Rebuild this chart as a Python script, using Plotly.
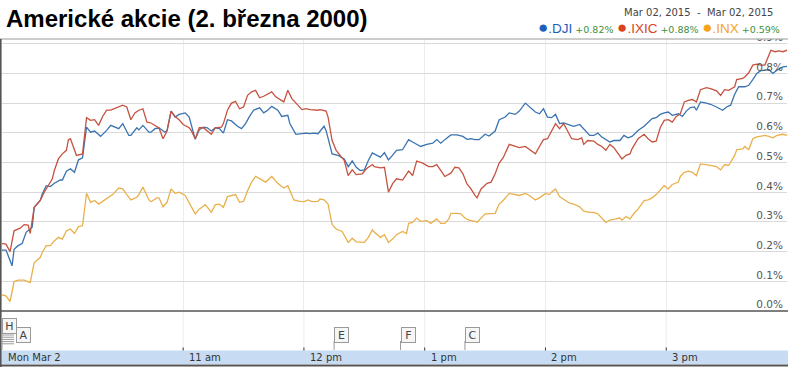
import pandas as pd
import plotly.graph_objects as go

DAY_OPEN = pd.Timestamp("2015-03-02 09:30")
DAY_CLOSE = pd.Timestamp("2015-03-02 16:00")

# minutes after 9:30 and % change
dji_min = [0, 2, 5, 6, 8, 10, 12, 15, 16, 19, 20, 22, 24, 26, 29, 30, 32, 34, 36, 38, 40, 42, 44, 46, 49, 52, 54, 57, 58, 60, 63, 64, 67, 68, 70, 73, 74, 76, 78,
           81, 82, 84, 86, 88, 91, 93, 94, 96, 98, 100, 102, 104, 106, 108, 110, 112, 114, 117, 119, 121, 123, 125, 128, 130, 132, 134, 137, 139, 142, 143, 146, 148, 151, 153, 155, 157,
           160, 161, 164, 167, 170, 172, 174, 176, 178, 180, 182, 184, 186, 188, 190, 192, 194, 196, 199, 202, 204, 208, 211, 214, 216, 218, 220, 223, 226, 229, 231, 233, 235,
           237, 240, 242, 245, 247, 250, 252, 255, 257, 260, 262, 265, 267, 269, 271, 273, 275, 277, 279, 282, 284, 287, 289, 292, 294, 296, 298, 300, 302, 304, 307, 309, 311, 313,
           316, 319, 321, 323, 325, 327, 329, 331, 333, 336, 338, 340, 342, 344, 345, 347, 350, 352, 355, 356, 358, 360, 362, 364, 366, 369, 371, 373, 375, 377, 379, 381, 383, 385, 388, 390]
dji = [0.205, 0.205, 0.152, 0.208, 0.220, 0.227, 0.265, 0.282, 0.349, 0.372, 0.394, 0.422, 0.419, 0.430, 0.441, 0.441, 0.471, 0.479, 0.467, 0.509, 0.516, 0.619, 0.602, 0.606, 0.588, 0.608, 0.625, 0.617, 0.614, 0.631, 0.591, 0.591, 0.617, 0.610, 0.625, 0.602, 0.602, 0.614, 0.616,
       0.602, 0.608, 0.673, 0.653, 0.662, 0.667, 0.653, 0.625, 0.578, 0.610, 0.619, 0.617, 0.606, 0.617, 0.614, 0.599, 0.644, 0.640, 0.622, 0.614, 0.631, 0.655, 0.676, 0.684, 0.667, 0.676, 0.689, 0.676, 0.655, 0.659, 0.631, 0.595, 0.597, 0.599, 0.597, 0.599, 0.597,
       0.622, 0.608, 0.529, 0.524, 0.512, 0.486, 0.505, 0.484, 0.473, 0.475, 0.507, 0.532, 0.524, 0.518, 0.533, 0.509, 0.524, 0.541, 0.543, 0.577, 0.569, 0.554, 0.561, 0.565, 0.577, 0.565, 0.577, 0.593, 0.593, 0.588, 0.578, 0.580, 0.577,
       0.577, 0.595, 0.589, 0.606, 0.644, 0.653, 0.667, 0.662, 0.673, 0.700, 0.687, 0.670, 0.664, 0.681, 0.653, 0.651, 0.662, 0.631, 0.633, 0.625, 0.622, 0.628, 0.614, 0.591, 0.591, 0.599, 0.586, 0.577, 0.569, 0.574, 0.574, 0.591, 0.583, 0.588,
       0.608, 0.622, 0.636, 0.648, 0.651, 0.662, 0.667, 0.670, 0.659, 0.664, 0.655, 0.673, 0.685, 0.687, 0.676, 0.704, 0.700, 0.696, 0.687, 0.684, 0.676, 0.687, 0.693, 0.730, 0.755, 0.755, 0.760, 0.779, 0.800, 0.809, 0.811, 0.813, 0.800, 0.811, 0.822, 0.824]

ixic_min = [0, 2, 4, 6, 9, 11, 13, 14, 16, 19, 21, 23, 25, 26, 28, 30, 32, 33, 34, 37, 39, 40, 42, 44, 46, 48, 50, 52, 54, 58, 60, 62, 64, 66, 68, 70, 72, 74, 77, 78,
            80, 82, 84, 86, 88, 90, 93, 94, 96, 98, 100, 104, 106, 109, 110, 112, 114, 116, 118, 120, 122, 124, 126, 128, 130, 134, 136, 138, 140, 142, 144, 147, 149, 151, 153, 157,
            158, 161, 162, 164, 166, 170, 172, 174, 176, 179, 181, 184, 185, 188, 190, 192, 194, 196, 199, 202, 204, 206, 209, 212, 214, 216, 218, 220, 223, 225, 227, 229, 231, 233, 235,
            236, 238, 241, 243, 245, 247, 249, 252, 255, 257, 260, 262, 265, 267, 269, 271, 273, 275, 277, 279, 281, 283, 286, 288, 289, 291, 294, 296, 298, 300, 302, 304, 308, 310, 312, 313,
            316, 319, 321, 323, 325, 327, 329, 331, 333, 335, 337, 339, 341, 343, 345, 347, 350, 352, 355, 357, 359, 361, 364, 365, 368, 369, 371, 373, 375, 377, 379, 382, 384, 386, 388, 390]
ixic = [0.227, 0.225, 0.200, 0.270, 0.279, 0.291, 0.289, 0.261, 0.349, 0.372, 0.400, 0.422, 0.445, 0.473, 0.512, 0.529, 0.541, 0.577, 0.580, 0.524, 0.527, 0.529, 0.651, 0.642, 0.644, 0.625, 0.655, 0.676, 0.676, 0.687, 0.693, 0.687, 0.644, 0.667, 0.676, 0.681, 0.636, 0.633, 0.619, 0.616,
        0.580, 0.606, 0.673, 0.655, 0.644, 0.628, 0.617, 0.608, 0.580, 0.617, 0.617, 0.595, 0.617, 0.619, 0.631, 0.676, 0.700, 0.706, 0.681, 0.687, 0.726, 0.738, 0.743, 0.718, 0.723, 0.738, 0.721, 0.712, 0.704, 0.743, 0.715, 0.693, 0.678, 0.681, 0.678, 0.676,
        0.678, 0.673, 0.653, 0.574, 0.541, 0.507, 0.456, 0.475, 0.459, 0.462, 0.479, 0.493, 0.486, 0.482, 0.484, 0.400, 0.428, 0.445, 0.441, 0.471, 0.456, 0.505, 0.498, 0.486, 0.486, 0.493, 0.473, 0.453, 0.464, 0.484, 0.482, 0.462, 0.428, 0.411, 0.389,
        0.381, 0.411, 0.430, 0.434, 0.462, 0.498, 0.516, 0.561, 0.554, 0.550, 0.554, 0.543, 0.529, 0.554, 0.577, 0.580, 0.608, 0.631, 0.614, 0.631, 0.606, 0.580, 0.577, 0.583, 0.561, 0.574, 0.572, 0.561, 0.554, 0.541, 0.561, 0.550, 0.512, 0.524, 0.529, 0.546,
        0.580, 0.595, 0.580, 0.569, 0.572, 0.617, 0.642, 0.644, 0.636, 0.655, 0.664, 0.704, 0.709, 0.712, 0.704, 0.745, 0.752, 0.749, 0.741, 0.726, 0.745, 0.743, 0.755, 0.779, 0.783, 0.788, 0.802, 0.828, 0.831, 0.828, 0.828, 0.878, 0.873, 0.876, 0.873, 0.878]

inx_min = [0, 2, 4, 6, 8, 11, 14, 16, 19, 20, 22, 24, 26, 28, 30, 32, 34, 36, 38, 40, 42, 44, 46, 48, 50, 53, 55, 58, 60, 62, 64, 67, 68, 70, 73, 74, 77, 78,
           80, 82, 84, 86, 88, 91, 93, 96, 98, 101, 104, 106, 108, 110, 112, 115, 116, 118, 120, 122, 124, 126, 129, 131, 134, 137, 139, 140, 142, 145, 148, 150, 152, 154, 157,
           158, 160, 162, 164, 166, 169, 172, 174, 176, 180, 182, 184, 185, 188, 190, 192, 194, 196, 199, 201, 202, 204, 206, 208, 211, 213, 216, 218, 220, 222, 223, 226, 228, 230, 232, 235,
           236, 240, 243, 245, 247, 249, 252, 255, 257, 260, 262, 265, 267, 270, 272, 273, 275, 277, 279, 282, 284, 287, 289, 292, 294, 296, 300, 302, 305, 307, 308, 310, 312, 313,
           314, 316, 319, 321, 323, 325, 327, 329, 331, 333, 336, 337, 339, 341, 343, 345, 347, 350, 352, 355, 357, 359, 361, 364, 365, 368, 369, 371, 373, 375, 377, 379, 381, 383, 385, 388, 390]
inx = [0.054, 0.051, 0.032, 0.099, 0.104, 0.104, 0.096, 0.163, 0.180, 0.197, 0.220, 0.220, 0.236, 0.248, 0.242, 0.270, 0.276, 0.261, 0.284, 0.287, 0.396, 0.366, 0.372, 0.360, 0.369, 0.383, 0.392, 0.414, 0.411, 0.392, 0.374, 0.383, 0.392, 0.417, 0.374, 0.368, 0.381, 0.381,
       0.351, 0.366, 0.411, 0.396, 0.400, 0.389, 0.366, 0.327, 0.343, 0.358, 0.332, 0.358, 0.360, 0.349, 0.385, 0.392, 0.392, 0.366, 0.369, 0.405, 0.434, 0.453, 0.441, 0.434, 0.453, 0.430, 0.419, 0.414, 0.422, 0.374, 0.369, 0.368, 0.374, 0.368, 0.369,
       0.377, 0.374, 0.360, 0.291, 0.276, 0.268, 0.231, 0.245, 0.233, 0.231, 0.248, 0.273, 0.265, 0.248, 0.257, 0.231, 0.242, 0.257, 0.268, 0.261, 0.295, 0.298, 0.313, 0.302, 0.304, 0.295, 0.310, 0.295, 0.295, 0.310, 0.329, 0.329, 0.327, 0.313, 0.306, 0.302,
       0.298, 0.327, 0.329, 0.329, 0.360, 0.372, 0.396, 0.392, 0.389, 0.396, 0.389, 0.374, 0.381, 0.396, 0.392, 0.400, 0.411, 0.385, 0.377, 0.363, 0.360, 0.351, 0.336, 0.332, 0.332, 0.327, 0.298, 0.306, 0.310, 0.313, 0.306, 0.318, 0.310, 0.321,
       0.329, 0.343, 0.372, 0.374, 0.381, 0.392, 0.408, 0.422, 0.411, 0.426, 0.434, 0.453, 0.467, 0.471, 0.467, 0.456, 0.495, 0.493, 0.490, 0.486, 0.475, 0.493, 0.490, 0.524, 0.543, 0.546, 0.554, 0.543, 0.580, 0.586, 0.588, 0.591, 0.588, 0.583, 0.591, 0.595, 0.591]

ytick_vals = [0.0, 0.1, 0.2, 0.3, 0.4, 0.5, 0.6, 0.7, 0.8, 0.9]
ytick_text = ["0.0%", "0.1%", "0.2%", "0.3%", "0.4%", "0.5%", "0.6%", "0.7%", "0.8%", "0.9%"]
xtick_times = ["09:30", "11:00", "12:00", "13:00", "14:00", "15:00"]
xtick_text = ["Mon Mar 2", "11 am", "12 pm", "1 pm", "2 pm", "3 pm"]
flag_letters = ["H", "A", "E", "F", "C"]
flag_times = ["09:30", "09:37", "12:15", "12:48", "13:20"]

legend_names = [".DJI", ".IXIC", ".INX"]
legend_changes = ["+0.82%", "+0.88%", "+0.59%"]
legend_colors = ["#1c5fbd", "#d9441f", "#f5a31d"]
line_colors = ["#3a73af", "#c55340", "#e9b04c"]

W, H = 788, 367
def py(px):  # pixel from top -> paper fraction
    return (H - px) / H

def t(mins):
    return DAY_OPEN + pd.to_timedelta(mins, unit="min")

def hm(s):
    return pd.Timestamp("2015-03-02 " + s)

fig = go.Figure()
for name, mins, vals, col in [(".DJI", dji_min, dji, line_colors[0]),
                              (".IXIC", ixic_min, ixic, line_colors[1]),
                              (".INX", inx_min, inx, line_colors[2])]:
    assert len(mins) == len(vals), name
    fig.add_trace(go.Scatter(x=t(mins), y=vals, mode="lines", name=name,
                             line=dict(color=col, width=1.3), hoverinfo="skip"))

# right axis labels, drawn inside the plot (clipped like the original)
fig.add_trace(go.Scatter(x=[DAY_CLOSE - pd.Timedelta(minutes=2)] * len(ytick_vals), y=ytick_vals,
                         text=ytick_text, mode="text", textposition="top left",
                         textfont=dict(family="DejaVu Sans", size=10.5, color="#555555"),
                         cliponaxis=True, hoverinfo="skip", showlegend=False))

fig.update_layout(
    width=W, height=H, margin=dict(l=0, r=0, t=0, b=0),
    paper_bgcolor="white", plot_bgcolor="white", showlegend=False,
    xaxis=dict(type="date", domain=[2 / W, 787 / W], range=[DAY_OPEN, DAY_CLOSE],
               tickvals=[hm(s) for s in xtick_times], showticklabels=False,
               showgrid=True, gridcolor="#ececec", gridwidth=1, zeroline=False,
               showline=False, fixedrange=True),
    yaxis=dict(domain=[py(311), py(39)], range=[0, 0.9158], tickvals=ytick_vals,
               showticklabels=False, showgrid=True, gridcolor="#d9d9d9", gridwidth=1,
               zeroline=False, showline=False, fixedrange=True),
)

shapes = []
# frame lines
shapes.append(dict(type="line", xref="paper", yref="paper", x0=0, x1=1, y0=py(39), y1=py(39),
                   line=dict(color="#9a9a9a", width=1)))
shapes.append(dict(type="line", xref="paper", yref="paper", x0=0, x1=1, y0=py(311), y1=py(311),
                   line=dict(color="#555555", width=1.5)))
shapes.append(dict(type="line", xref="paper", yref="paper", x0=0.8 / W, x1=0.8 / W, y0=0, y1=py(39),
                   line=dict(color="#555555", width=1.6)))
# time axis band
shapes.append(dict(type="rect", xref="paper", yref="paper", x0=1.5 / W, x1=1, y0=py(364), y1=py(350.5),
                   fillcolor="#c7dcf2", line=dict(width=0), layer="below"))
shapes.append(dict(type="line", xref="paper", yref="paper", x0=0, x1=1, y0=py(365.5), y1=py(365.5),
                   line=dict(color="#555555", width=2)))
# event area gridlines and ticks
for s in xtick_times[1:]:
    shapes.append(dict(type="line", xref="x", yref="paper", x0=hm(s), x1=hm(s), y0=py(350), y1=py(311),
                       line=dict(color="#ececec", width=1), layer="below"))
    shapes.append(dict(type="line", xref="x", yref="paper", x0=hm(s), x1=hm(s), y0=py(350.5), y1=py(347.5),
                       line=dict(color="#333333", width=1)))

annotations = []
for s, txt in zip(xtick_times, xtick_text):
    annotations.append(dict(x=hm(s), xref="x", y=py(357.5), yref="paper", text=txt, showarrow=False,
                            xanchor="left", yanchor="middle", xshift=4,
                            font=dict(family="DejaVu Sans", size=10, color="#333333")))

# event flags
for letter, s in zip(flag_letters, flag_times):
    top = 318 if letter == "H" else 327
    annotations.append(dict(x=hm(s), xref="x", y=py(top), yref="paper", text=letter, showarrow=False,
                            xanchor="left", yanchor="top", width=10, height=11, borderpad=1.5,
                            bordercolor="#9a9a9a", borderwidth=1, bgcolor="#f6f6f6",
                            font=dict(family="DejaVu Sans", size=11, color="#444444")))
    if letter in ("E", "F", "C"):
        shapes.append(dict(type="line", xref="x", yref="paper", x0=hm(s), x1=hm(s), y0=py(350), y1=py(341),
                           line=dict(color="#9a9a9a", width=1)))
    if letter == "H":
        for k in range(5):
            yy = 335 + 2.2 * k
            shapes.append(dict(type="line", xref="x", yref="paper", x0=hm(s), x1=hm(s) + pd.Timedelta(minutes=6),
                               y0=py(yy), y1=py(yy), line=dict(color="#9a9a9a", width=1)))
        shapes.append(dict(type="line", xref="x", yref="paper", x0=hm(s), x1=hm(s), y0=py(350), y1=py(333),
                           line=dict(color="#9a9a9a", width=1)))

# title and header
annotations.append(dict(x=4 / W, xref="paper", y=py(18.5), yref="paper", text="<b>Americké akcie (2. března 2000)</b>",
                        showarrow=False, xanchor="left", yanchor="middle",
                        font=dict(family="Liberation Sans", size=24, color="#000000")))
annotations.append(dict(x=775 / W, xref="paper", y=py(12.5), yref="paper",
                        text="Mar 02, 2015 &nbsp;- &nbsp;Mar 02, 2015",
                        showarrow=False, xanchor="right", yanchor="middle",
                        font=dict(family="DejaVu Sans", size=10, color="#444444")))
parts = []
for nm, ch, col in zip(legend_names, legend_changes, legend_colors):
    parts.append(f"<span style='color:{col};font-size:17px'>●</span>"
                 f"<span style='color:{col};font-size:13.5px'>{nm}</span>"
                 f"<span style='color:#3d8f3d;font-size:9.5px;font-family:DejaVu Sans'> {ch}</span>")
annotations.append(dict(x=782 / W, xref="paper", y=py(27.5), yref="paper", text=" ".join(parts),
                        showarrow=False, xanchor="right", yanchor="middle",
                        font=dict(family="Liberation Sans", size=13, color="#333333")))

fig.update_layout(shapes=shapes, annotations=annotations)
fig.write_html("out.html", config={"displayModeBar": False},
               post_script="document.body.style.margin='0';document.body.style.overflow='hidden';")
